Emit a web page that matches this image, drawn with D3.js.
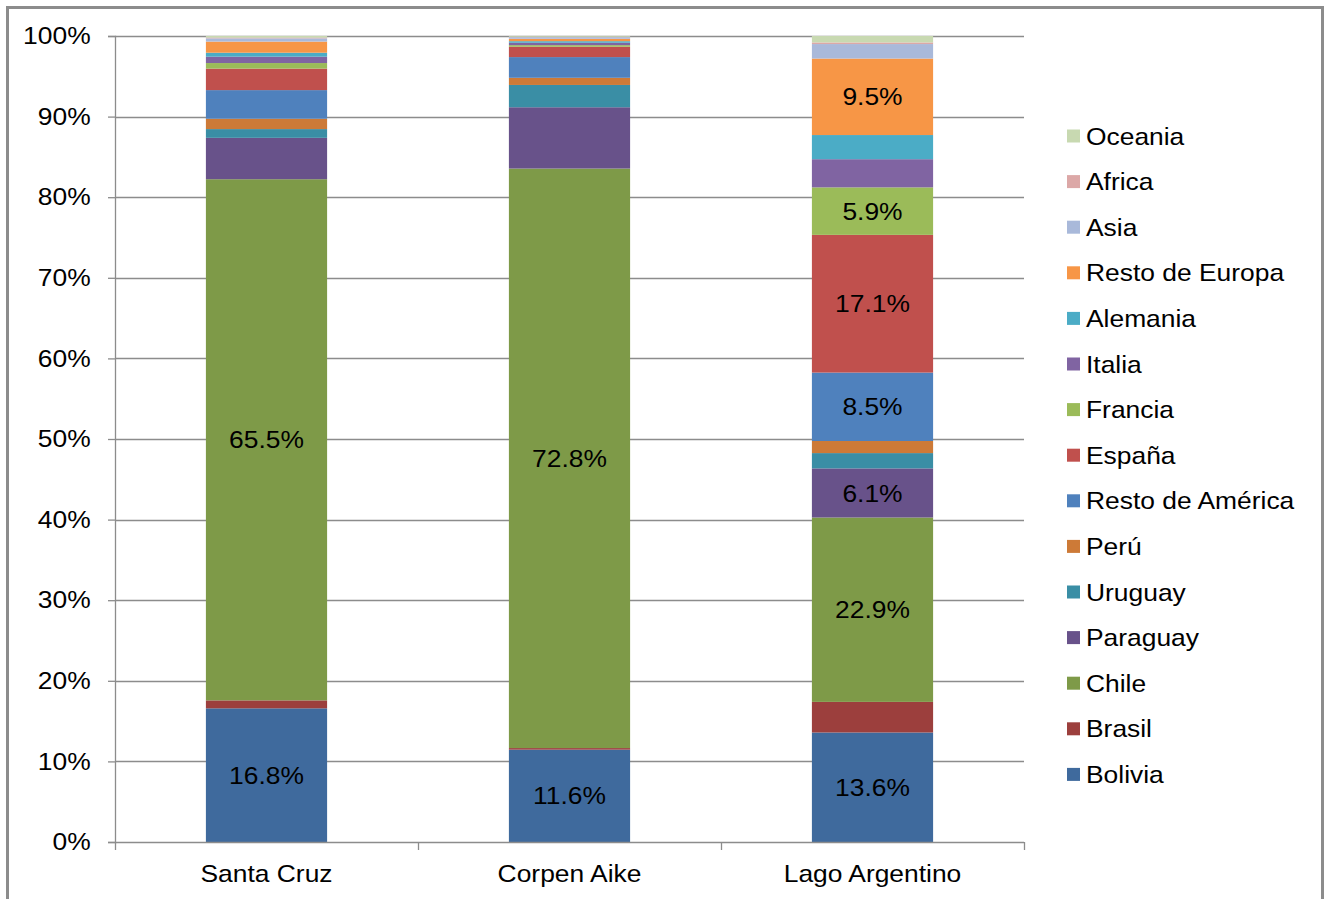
<!DOCTYPE html>
<html>
<head>
<meta charset="utf-8">
<script src="https://cdn.jsdelivr.net/npm/d3@7"></script>
<style>
  html, body { margin: 0; padding: 0; background: #fff; }
  svg { display: block; font-family: "Liberation Sans", Arial, sans-serif; }
</style>
</head>
<body>
<svg id="chart" width="1329" height="899"></svg>
<script>
// ---- data ----
const categories = ["Santa Cruz", "Corpen Aike", "Lago Argentino"];
const seriesNames = ["Bolivia", "Brasil", "Chile", "Paraguay", "Uruguay", "Perú",
  "Resto de América", "España", "Francia", "Italia", "Alemania", "Resto de Europa",
  "Asia", "Africa", "Oceania"];
const santaCruz     = [16.8, 1.0, 65.5, 5.2, 1.1, 1.3, 3.6, 2.7, 0.7, 0.8, 0.5, 1.4, 0.4, 0.1, 0.2];
const corpenAike    = [11.6, 0.2, 72.8, 7.7, 2.8, 0.9, 2.6, 1.3, 0.2, 0.3, 0.2, 0.3, 0.2, 0.05, 0.1];
const lagoArgentino = [13.6, 3.8, 22.9, 6.1, 1.9, 1.5, 8.5, 17.1, 5.9, 3.5, 3.0, 9.5, 1.8, 0.2, 0.8];
const seriesColors = ["#3F6A9D", "#9C3F3D", "#7E9A48", "#68528A", "#3A8EA5", "#CD7A37",
  "#4F81BD", "#C0504D", "#9BBB59", "#8064A2", "#4BACC6", "#F79646",
  "#A9B9DA", "#DCA8A7", "#C8D9B1"];
const yTickValues = [0, 0.1, 0.2, 0.3, 0.4, 0.5, 0.6, 0.7, 0.8, 0.9, 1.0];
const labelledSegments = [
  ["Santa Cruz", "Bolivia"], ["Santa Cruz", "Chile"],
  ["Corpen Aike", "Bolivia"], ["Corpen Aike", "Chile"],
  ["Lago Argentino", "Bolivia"], ["Lago Argentino", "Chile"], ["Lago Argentino", "Paraguay"],
  ["Lago Argentino", "Resto de América"], ["Lago Argentino", "España"],
  ["Lago Argentino", "Francia"], ["Lago Argentino", "Resto de Europa"]
];

// ---- build table ----
const valuesByCat = [santaCruz, corpenAike, lagoArgentino];
const table = categories.map((c, i) => {
  const row = { cat: c };
  seriesNames.forEach((s, j) => row[s] = valuesByCat[i][j]);
  return row;
});

const svg = d3.select("#chart");
const FS = 24, SX = 1.1; // font size and horizontal stretch of the reference text

// outer border
svg.append("rect").attr("x", 7.5).attr("y", 7.5).attr("width", 1315).attr("height", 900)
  .attr("fill", "none").attr("stroke", "#8c8c8c").attr("stroke-width", 3);

const plot = { left: 115, right: 1024, top: 36, bottom: 842 };

const x = d3.scaleBand().domain(categories).range([plot.left, plot.right])
  .paddingInner(0.6).paddingOuter(0.3);
const y = d3.scaleLinear().domain([0, 1]).range([plot.bottom, plot.top]);

const stack = d3.stack().keys(seriesNames).offset(d3.stackOffsetExpand);
const stacked = stack(table);

function placeText(sel, fx, fy) {
  sel.attr("x", 0).attr("y", 0)
    .attr("transform", (d, i) => `translate(${fx(d, i)},${fy(d, i)}) scale(${SX},1)`);
}

// gridlines
svg.append("g").selectAll("line").data(yTickValues.filter(v => v > 0)).join("line")
  .attr("x1", plot.left).attr("x2", plot.right)
  .attr("y1", d => Math.round(y(d)) + 0.5).attr("y2", d => Math.round(y(d)) + 0.5)
  .attr("stroke", "#8c8c8c").attr("stroke-width", 1.3);

// bars
const gs = svg.append("g").selectAll("g").data(stacked).join("g")
  .attr("fill", (d, i) => seriesColors[i]);
gs.selectAll("rect").data(d => d.map(p => ({ p, key: d.key }))).join("rect")
  .attr("x", d => x(d.p.data.cat))
  .attr("width", x.bandwidth())
  .attr("y", d => y(d.p[1]))
  .attr("height", d => Math.max(0, y(d.p[0]) - y(d.p[1])));

// labels
const labelSet = new Set(labelledSegments.map(d => d[0] + "|" + d[1]));
const labelData = [];
stacked.forEach(s => s.forEach(p => {
  if (labelSet.has(p.data.cat + "|" + s.key)) labelData.push({ p, key: s.key });
}));
svg.append("g").selectAll("text").data(labelData).join("text")
  .call(placeText, d => x(d.p.data.cat) + x.bandwidth() / 2, d => (y(d.p[0]) + y(d.p[1])) / 2)
  .attr("dy", "0.36em")
  .attr("text-anchor", "middle")
  .attr("font-size", FS)
  .attr("fill", "#000")
  .text(d => d3.format(".1f")(d.p.data[d.key]) + "%");

// y axis
const yAxis = d3.axisLeft(y).tickValues(yTickValues).tickFormat(d3.format(".0%"))
  .tickSize(7).tickPadding(15);
const ya = svg.append("g").attr("transform", `translate(${plot.left},0)`).call(yAxis);
ya.select(".domain").attr("stroke", "#8c8c8c").attr("stroke-width", 1.3);
ya.selectAll(".tick line").attr("stroke", "#8c8c8c").attr("stroke-width", 1.3);
ya.selectAll(".tick text").attr("font-size", FS).attr("fill", "#000")
  .attr("font-family", "Liberation Sans, Arial, sans-serif")
  .attr("transform", `translate(${-24 * SX + 24},0) scale(${SX},1)`)
  .attr("x", -22 / SX);

// x axis
const xa = svg.append("g").attr("transform", `translate(0,${plot.bottom})`);
xa.append("line").attr("x1", plot.left).attr("x2", plot.right).attr("y1", 0.5).attr("y2", 0.5)
  .attr("stroke", "#8c8c8c").attr("stroke-width", 1.3);
const step = x.step();
const boundaries = d3.range(categories.length + 1).map(i => plot.left + i * step);
xa.selectAll("line.tk").data(boundaries).join("line").attr("class", "tk")
  .attr("x1", d => Math.round(d) + 0.5).attr("x2", d => Math.round(d) + 0.5)
  .attr("y1", 0).attr("y2", 8)
  .attr("stroke", "#8c8c8c").attr("stroke-width", 1.3);
xa.selectAll("text").data(categories).join("text")
  .call(placeText, d => x(d) + x.bandwidth() / 2, () => 40)
  .attr("text-anchor", "middle")
  .attr("font-size", FS)
  .attr("fill", "#000")
  .text(d => d);

// legend
const legendOrder = seriesNames.map((s, i) => ({ s, i })).reverse();
const lg = svg.append("g").attr("transform", "translate(1067,136)");
const rowH = 45.6;
const items = lg.selectAll("g").data(legendOrder).join("g")
  .attr("transform", (d, k) => `translate(0,${k * rowH})`);
items.append("rect").attr("x", 0).attr("y", -6.5).attr("width", 13).attr("height", 13)
  .attr("fill", d => seriesColors[d.i]);
items.append("text").call(placeText, () => 19, () => 0).attr("dy", "0.36em")
  .attr("font-size", FS).attr("fill", "#000").text(d => d.s);
</script>
</body>
</html>
